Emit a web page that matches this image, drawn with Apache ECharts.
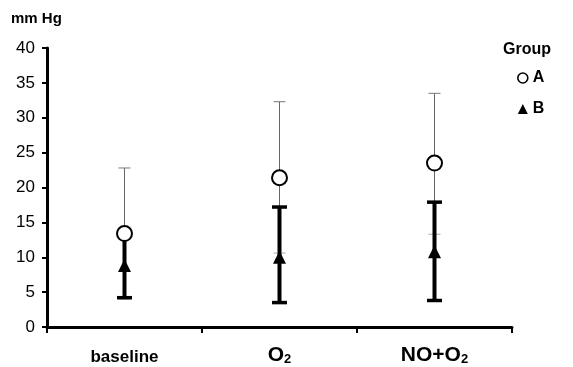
<!DOCTYPE html>
<html>
<head>
<meta charset="utf-8">
<script src="https://cdn.jsdelivr.net/npm/echarts@6/dist/echarts.min.js"></script>
<style>html,body{margin:0;padding:0;background:#fff}#c{width:573px;height:367px}</style>
</head>
<body>
<div id="c"></div>
<script>
var categories = ['baseline', 'O2', 'NO+O2'];
var yTicks = [0, 5, 10, 15, 20, 25, 30, 35, 40];
// Group A (open circles): mean, lower, upper
var aMean = [13.4, 21.4, 23.5];
var aLow = [4.0, 10.6, 13.3];
var aHigh = [22.8, 32.3, 33.5];
// Group B (filled triangles): mean, lower, upper
var bMean = [8.8, 10.0, 10.8];
var bLow = [4.2, 3.5, 3.8];
var bHigh = [13.4, 17.2, 17.9];

var FONT = '"Liberation Sans", Arial, sans-serif';

function errData(low, high) {
  return categories.map(function (c, i) { return [i, low[i], high[i]]; });
}
function errRender(lw, capW, capLw, color, capColors) {
  return function (params, api) {
    var x = api.value(0);
    var pLo = api.coord([x, api.value(1)]);
    var pHi = api.coord([x, api.value(2)]);
    var s = { stroke: color, lineWidth: lw };
    return {
      type: 'group',
      children: [
        { type: 'line', shape: { x1: pHi[0], y1: pHi[1], x2: pLo[0], y2: pLo[1] }, style: s },
        { type: 'line', shape: { x1: pHi[0] - capW / 2, y1: pHi[1], x2: pHi[0] + capW / 2, y2: pHi[1] }, style: { stroke: capColors[0], lineWidth: capLw } },
        { type: 'line', shape: { x1: pLo[0] - capW / 2, y1: pLo[1], x2: pLo[0] + capW / 2, y2: pLo[1] }, style: { stroke: capColors[1], lineWidth: capLw } }
      ]
    };
  };
}

var chart = echarts.init(document.getElementById('c'), null, { renderer: 'canvas' });
chart.setOption({
  animation: false,
  backgroundColor: '#fff',
  title: [
    { text: 'mm Hg', left: 6, top: 6, textStyle: { fontFamily: FONT, fontSize: 15, fontWeight: 'bold', color: '#000' } },
    { text: 'Group', left: 498, top: 37, textStyle: { fontFamily: FONT, fontSize: 16, fontWeight: 'bold', color: '#000' } }
  ],
  legend: {
    orient: 'vertical', left: 512, top: 65, itemGap: 15, itemWidth: 10, itemHeight: 10,
    textStyle: { fontFamily: FONT, fontSize: 16, fontWeight: 'bold', color: '#000', padding: [0, 0, 0, 0] },
    data: [
      { name: 'A', icon: 'circle', itemStyle: { color: '#fff', borderColor: '#000', borderWidth: 1.6 } },
      { name: 'B', icon: 'triangle', itemStyle: { color: '#000' } }
    ]
  },
  grid: { left: 47, right: 61, top: 48, bottom: 40, containLabel: false },
  xAxis: {
    type: 'category', data: categories, boundaryGap: true,
    axisLine: { lineStyle: { color: '#000', width: 3 } },
    axisTick: { show: true, inside: false, length: 6, lineStyle: { color: '#000', width: 2 } },
    axisLabel: {
      margin: 17, color: '#000',
      formatter: function (v) {
        if (v === 'baseline') return '{b|baseline}';
        if (v === 'O2') return '{o|O}{s|2}';
        return '{o|NO+O}{s|2}';
      },
      rich: {
        b: { fontFamily: FONT, fontSize: 17, fontWeight: 'bold', color: '#000', lineHeight: 22, verticalAlign: 'bottom' },
        o: { fontFamily: FONT, fontSize: 21, fontWeight: 'bold', color: '#000', lineHeight: 22, verticalAlign: 'bottom' },
        s: { fontFamily: FONT, fontSize: 13, fontWeight: 'bold', color: '#000', lineHeight: 12, verticalAlign: 'bottom', padding: [6, 0, 0, 0] }
      }
    },
    splitLine: { show: false }
  },
  yAxis: {
    type: 'value', min: 0, max: 40, interval: 5,
    axisLine: { show: true, lineStyle: { color: '#000', width: 3 } },
    axisTick: { show: true, inside: false, length: 5, lineStyle: { color: '#000', width: 2 } },
    axisLabel: { margin: 12, color: '#000', fontFamily: FONT, fontSize: 17,
      formatter: function (v) { return yTicks.indexOf(v) >= 0 ? String(v) : ''; } },
    splitLine: { show: false }
  },
  series: [
    { type: 'custom', name: 'Aerr', z: 2, renderItem: errRender(1, 12, 1, '#666', ['#777', '#aaa']), data: errData(aLow, aHigh), silent: true },
    { type: 'custom', name: 'Berr', z: 3, renderItem: errRender(4, 15, 3.5, '#000', ['#000', '#000']), data: errData(bLow, bHigh), silent: true },
    { type: 'scatter', name: 'A', z: 5, symbol: 'circle', symbolSize: 15,
      itemStyle: { color: '#fff', borderColor: '#000', borderWidth: 2, opacity: 1 },
      data: categories.map(function (c, i) { return [i, aMean[i]]; }) },
    { type: 'scatter', name: 'B', z: 6, symbol: 'triangle', symbolSize: [13, 13],
      itemStyle: { color: '#000', opacity: 1 },
      data: categories.map(function (c, i) { return [i, bMean[i]]; }) }
  ]
});
</script>
</body>
</html>
